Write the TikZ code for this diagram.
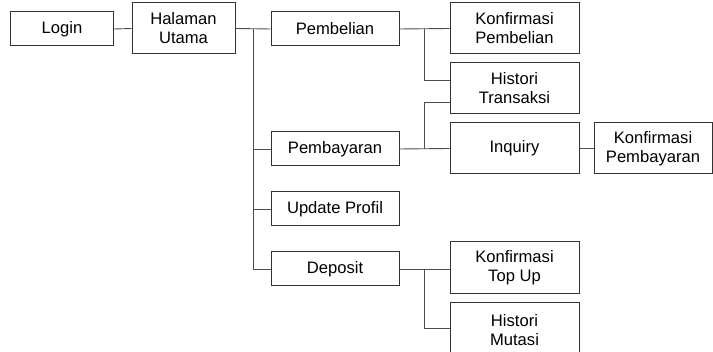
\documentclass[tikz,border=0pt]{standalone}
\usepackage{fontspec}
\setmainfont{Liberation Sans}
\begin{document}
\begin{tikzpicture}[x=1pt,y=-1pt,
  menubox/.style={draw=black!80, line width=1pt, fill=white, align=center,
    inner sep=0pt, font=\fontsize{16.6}{19}\selectfont},
  small/.style={menubox, minimum width=128pt, minimum height=34pt},
  tall/.style={menubox, minimum width=129pt, minimum height=51pt},
  link/.style={draw=black!70, line width=0.9pt},
  trunk/.style={draw=black, line width=0.9pt}]
\useasboundingbox (0,0) rectangle (713,352);

% first level
\node[menubox, minimum width=103pt, minimum height=34pt] (login) at (62,29) {Login};
\node[menubox, minimum width=103pt, minimum height=51pt] (home) at (183.5,28.5) {Halaman\\Utama};

% main menu
\node[small] (beli)   at (335,29)  {Pembelian};
\node[small] (bayar)  at (335,149) {Pembayaran};
\node[small] (profil) at (335,209) {Update Profil};
\node[small] (depo)   at (335,269) {Deposit};

% sub menus
\node[tall] (kbeli)  at (514.5,28.5)  {Konfirmasi\\Pembelian};
\node[tall] (htrans) at (514.5,88.5)  {Histori\\Transaksi};
\node[tall] (inq)    at (514.5,148.5) {Inquiry};
\node[menubox, minimum width=118pt, minimum height=51pt] (kbayar) at (653,148.5) {Konfirmasi\\Pembayaran};
\node[tall, minimum height=52pt] (ktop) at (514.5,268) {Konfirmasi\\Top Up};
\node[tall, minimum height=55pt] (hmut) at (514.5,330.5) {Histori\\Mutasi};

% branching points
\coordinate (tr) at (253,29);
\coordinate (b1) at (424,29);
\coordinate (b2) at (424,149);
\coordinate (b3) at (424,269);

% connectors
\draw[link] (login.east) -- (home.west);
\draw[link] (home.east) -- (beli.west);
\draw[trunk] (tr) -- (253,269);
\draw[link] (tr) |- (bayar.west);
\draw[link] (tr) |- (profil.west);
\draw[link] (tr) |- (depo.west);

\draw[link] (beli.east) -- (kbeli.west);
\draw[link] (b1) |- ([yshift=8.5pt]htrans.west);

\draw[link] (bayar.east) -- (inq.west);
\draw[link] (b2) |- ([yshift=-13.5pt]htrans.west);
\draw[link] (inq.east) -- (kbayar.west);

\draw[link] (depo.east) -- (b3 -| ktop.west);
\draw[link] (b3) |- ([yshift=2.5pt]hmut.west);
\end{tikzpicture}
\end{document}
